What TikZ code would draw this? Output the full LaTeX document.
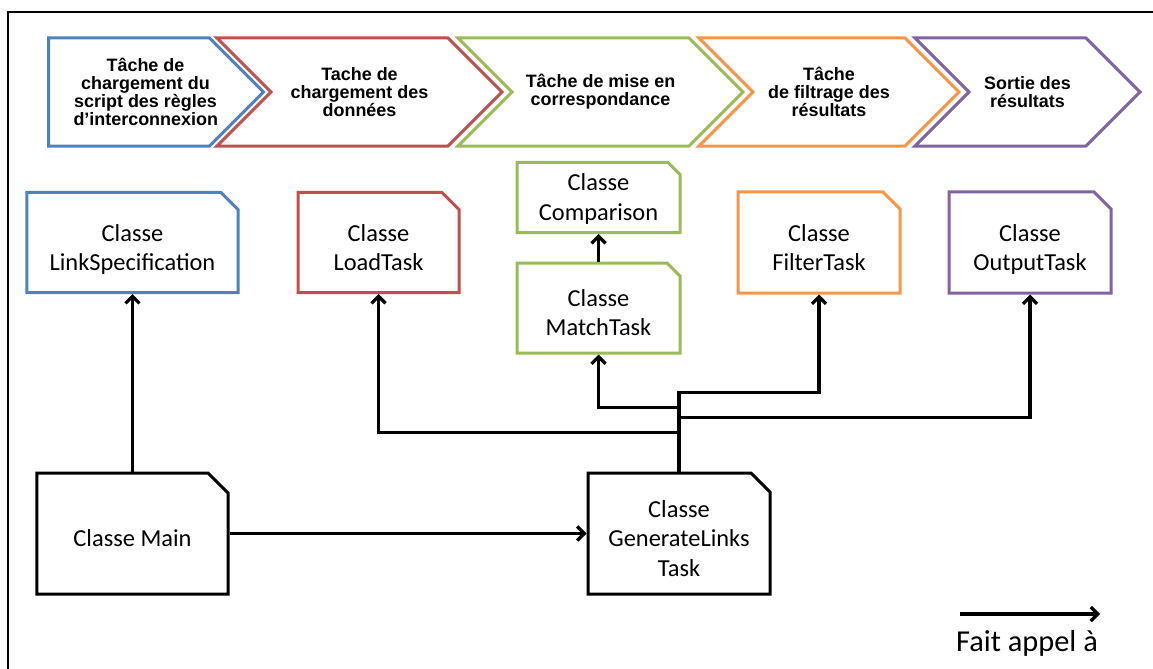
\documentclass[tikz,border=0pt]{standalone}
\usepackage{fontspec}
\setmainfont{Carlito}
\newfontfamily\chevfont{Liberation Sans}
\usepackage{tikz}
\usetikzlibrary{positioning,arrows.meta,shapes.symbols,shapes.misc,calc}
\definecolor{taskblue}{RGB}{79,129,189}
\definecolor{taskred}{RGB}{192,80,77}
\definecolor{taskgreen}{RGB}{155,187,89}
\definecolor{taskorange}{RGB}{247,150,70}
\definecolor{taskpurple}{RGB}{128,100,162}
\newcommand{\topstrut}[1][32.5bp]{\rule{0pt}{#1}}

\begin{document}
\begin{tikzpicture}[x=1bp,y=-1bp,
  phase/.style={signal, draw=#1, line width=3bp, signal from=west, signal to=east,
    signal pointer angle=90, minimum height=108bp, inner sep=0pt, align=center,
    font=\chevfont\bfseries\fontsize{18}{18.3}\selectfont},
  classbox/.style={chamfered rectangle, chamfered rectangle corners=north east,
    chamfered rectangle xsep=8.5bp, chamfered rectangle ysep=8.5bp,
    draw=#1, line width=3bp, inner sep=0pt, align=center,
    font=\fontsize{24.5}{29.5}\selectfont,
    execute at end node={\rule[-6bp]{0pt}{6bp}}},
  link/.style={line width=3.2bp, -{Straight Barb[length=7bp,width=14bp]}}]
\useasboundingbox (0,0) rectangle (1153,669);
% frame
\draw[line width=2bp] (1153,12) -- (8,12) -- (8,669);

% phases
\node[phase=taskblue, signal from=nowhere, anchor=west] (ph1) at (47,92)
  {\makebox[161bp][l]{\hspace*{25bp}\parbox{144bp}{\centering Tâche de\\chargement du\\script des règles\\d’interconnexion}}};
\node[phase=taskred, minimum width=285bp] (ph2) at (359.5,92) {Tache de\\chargement des\\données};
\node[phase=taskgreen, minimum width=285bp] (ph3) at (600.5,92) {Tâche de mise en\\correspondance};
\node[phase=taskorange, minimum width=260bp] (ph4) at (829,92) {Tâche\\de filtrage des\\résultats};
\node[phase=taskpurple, minimum width=225bp] (ph5) at (1027.5,92) {Sortie des\\résultats};

% classes
\node[classbox=taskblue, minimum width=211bp, minimum height=100bp] (linkspec) at (132.5,242.5) {\topstrut Classe\\LinkSpecification};
\node[classbox=taskred, minimum width=161bp, minimum height=100bp] (load) at (378.5,242.5) {\topstrut Classe\\LoadTask};
\node[classbox=taskgreen, minimum width=163bp, minimum height=70bp,
  chamfered rectangle xsep=6bp, chamfered rectangle ysep=6bp] (comp) at (598.5,197.5) {\topstrut[22bp]Classe\\Comparison};
\node[classbox=taskgreen, minimum width=163bp, minimum height=90bp,
  chamfered rectangle xsep=6.5bp, chamfered rectangle ysep=6.5bp] (match) at (598.5,308) {\topstrut Classe\\MatchTask};
\node[classbox=taskorange, minimum width=162bp, minimum height=101bp] (filter) at (819,242.5) {\topstrut Classe\\FilterTask};
\node[classbox=taskpurple, minimum width=162bp, minimum height=101bp] (output) at (1030,242.5) {\topstrut Classe\\OutputTask};
\node[classbox=black, minimum width=191bp, minimum height=121bp, chamfered rectangle xsep=10bp, chamfered rectangle ysep=10bp] (main) at (132.5,533.5) {\topstrut Classe Main};
\node[classbox=black, minimum width=182bp, minimum height=121bp, chamfered rectangle xsep=9.5bp, chamfered rectangle ysep=9.5bp] (gen) at (679,533.5) {\topstrut Classe\\GenerateLinks\\Task};

% calls
\draw[link] (main.north) -- (linkspec.south);
\draw[link] (main.east) -- (gen.west);
\draw[link] (match.north) -- (comp.south);
\draw[link] (gen.north) -- ++(0,-39) -| (load.south);
\draw[link] (gen.north) -- ++(0,-64) -| (match.south);
\draw[link] (gen.north) -- ++(0,-54) -| (output.south);
\draw[link] (gen.north) -- ++(0,-79) -| (filter.south);

% legend
\coordinate (legA) at (960,614);
\coordinate (legB) at (1100,614);
\coordinate (legMid) at ($(legA)!0.5!(legB)$);
\draw[link] (legA) -- (legB);
\node[font=\fontsize{30.5}{34}\selectfont, anchor=base, inner sep=0pt] (legtxt) at ($(legMid)+(-3,37)$) {Fait appel à};
\end{tikzpicture}
\end{document}
